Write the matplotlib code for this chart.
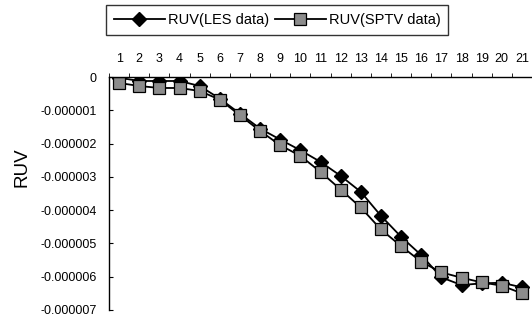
import numpy as np
import matplotlib.pyplot as plt
import matplotlib as mpl

mpl.rcParams["font.family"] = ["Liberation Sans", "DejaVu Sans"]

# ---- data (values in units of 1e-6)
positions = list(range(1, 22))
les = [-0.02, -0.12, -0.12, -0.12, -0.27, -0.65, -1.10, -1.55, -1.88, -2.20,
       -2.55, -2.97, -3.45, -4.17, -4.80, -5.35, -6.02, -6.25, -6.20, -6.18,
       -6.32]
sptv = [-0.18, -0.27, -0.33, -0.33, -0.42, -0.68, -1.15, -1.62, -2.05, -2.37,
        -2.85, -3.38, -3.92, -4.58, -5.08, -5.55, -5.87, -6.03, -6.17, -6.27,
        -6.50]
ytick_vals = [0, -1, -2, -3, -4, -5, -6, -7]
ytick_labels = ["0", "-0.000001", "-0.000002", "-0.000003", "-0.000004",
                "-0.000005", "-0.000006", "-0.000007"]

W, H = 532, 322
fig = plt.figure(figsize=(W / 100, H / 100), dpi=100)
ax = fig.add_axes([109 / W, 12 / H, 1 - 109 / W, (310 - 77) / H])

ax.plot(positions, les, color="black", lw=1.3, marker="D", ms=7,
        mfc="black", mec="black", label="RUV(LES data)")
ax.plot(positions, sptv, color="black", lw=1.3, marker="s", ms=8.5,
        mfc="#8c8c8c", mec="black", mew=0.9, label="RUV(SPTV data)")

ax.set_xlim(0.5, 21.35)
ax.set_ylim(-7, 0)

# ---- axes styling (category axis on top, values descending)
ax.spines["right"].set_visible(False)
ax.spines["bottom"].set_visible(False)
ax.spines["left"].set_linewidth(1.0)
ax.spines["top"].set_linewidth(1.0)
ax.xaxis.tick_top()
ax.set_xticks(positions)
ax.set_xticklabels([str(p) for p in positions])
ax.set_xticks(np.arange(0.5, 22, 1), minor=True)
ax.tick_params(axis="x", which="major", length=0, pad=9, labelsize=9)
ax.tick_params(axis="x", which="minor", length=3, direction="out", top=True,
               bottom=False)
ax.set_yticks(ytick_vals)
ax.set_yticklabels(ytick_labels)
ax.tick_params(axis="y", length=3, direction="in", pad=9, labelsize=9)

fig.text(22 / W, 1 - 167 / H, "RUV", rotation=90, fontsize=13.5,
         ha="center", va="center")

leg = fig.legend(loc="center", bbox_to_anchor=(277 / W, 1 - 20 / H), ncol=2,
                 fontsize=10.5, frameon=True, fancybox=False, handlelength=3.5,
                 handletextpad=0.2, columnspacing=0.4, borderpad=0.55,
                 borderaxespad=0)
leg.get_frame().set_edgecolor("black")
leg.get_frame().set_linewidth(1.0)

fig.savefig("out.png", dpi=100)
